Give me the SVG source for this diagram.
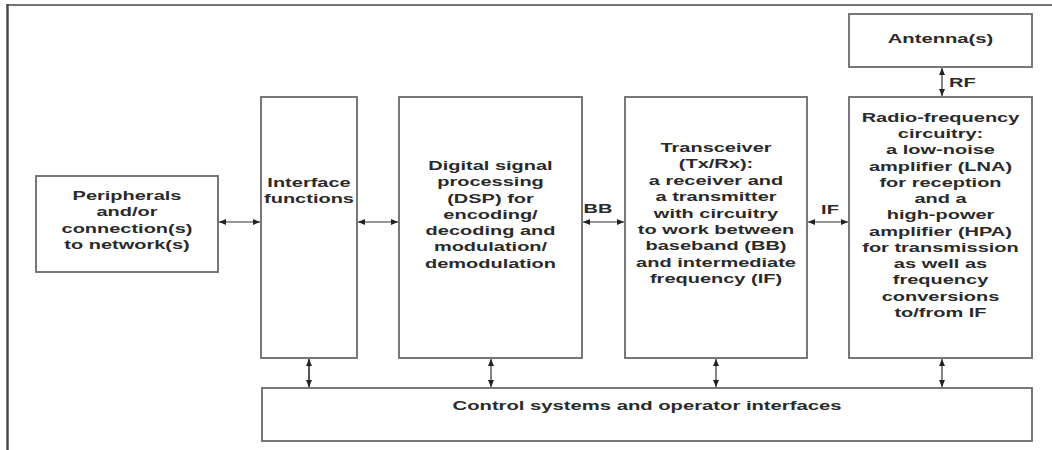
<svg xmlns="http://www.w3.org/2000/svg" width="1052" height="450" viewBox="0 0 1052 450">
<style>
.box{fill:#fff;stroke:#6a6a6a;stroke-width:1.8}
.t{font-family:"Liberation Sans",Arial,sans-serif;font-size:13.5px;font-weight:bold;fill:#2a2a2a;text-anchor:middle}
.lbl{font-family:"Liberation Sans",Arial,sans-serif;font-size:13.5px;font-weight:bold;fill:#2a2a2a}
.c{stroke:#333;stroke-width:1.2;fill:none;marker-start:url(#ah);marker-end:url(#ah)}
.cv{stroke:#555;stroke-width:2;fill:none;marker-start:url(#ah);marker-end:url(#ah)}
</style>
<defs>
<marker id="ah" markerUnits="userSpaceOnUse" markerWidth="8" markerHeight="7" refX="7" refY="3" orient="auto-start-reverse">
<path d="M0,0 L7,3 L0,6 z" fill="#222"/>
</marker>
</defs>
<rect x="0" y="0" width="1052" height="450" fill="#fff"/>
<g id="frame">
<line x1="7.5" y1="5" x2="1052" y2="5" stroke="#444" stroke-width="1.6"/>
<line x1="7.5" y1="4" x2="7.5" y2="450" stroke="#444" stroke-width="2.4"/>
</g>
<g id="connectors">
<line class="c" x1="219" y1="222" x2="260" y2="222"/>
<line class="c" x1="358" y1="222" x2="398" y2="222"/>
<line class="c" x1="583" y1="222" x2="624" y2="222"/>
<line class="c" x1="808" y1="222" x2="848" y2="222"/>
<line class="c" x1="942" y1="68" x2="942" y2="96"/>
<line class="cv" x1="309" y1="359" x2="309" y2="387"/>
<line class="c" x1="491" y1="359" x2="491" y2="387"/>
<line class="c" x1="716" y1="359" x2="716" y2="387"/>
<line class="c" x1="942" y1="359" x2="942" y2="387"/>
<g transform="translate(598,213) scale(1.48,1)"><text class="t" x="0" y="0">BB</text></g>
<g transform="translate(830,214) scale(1.48,1)"><text class="t" x="0" y="0">IF</text></g>
<g transform="translate(949,87) scale(1.48,1)"><text class="lbl" x="0" y="0">RF</text></g>
</g>
<g id="antenna">
<rect class="box" x="849" y="14" width="183" height="53"/>
<g transform="translate(940.5,43) scale(1.5,1)"><text class="t" x="0" y="0" fill="#1a1a1a">Antenna(s)</text></g>
</g>
<g id="peripherals">
<rect class="box" x="36" y="176" width="182" height="96"/>
<g transform="translate(127,0) scale(1.48,1)">
<text class="t" x="0" y="200">Peripherals</text>
<text class="t" x="0" y="216.3">and/or</text>
<text class="t" x="0" y="232.6">connection(s)</text>
<text class="t" x="0" y="249">to network(s)</text>
</g>
</g>
<g id="interface">
<rect class="box" x="261" y="97" width="96" height="261"/>
<g transform="translate(309,0) scale(1.48,1)">
<text class="t" x="0" y="187">Interface</text>
<text class="t" x="0" y="203.3">functions</text>
</g>
</g>
<g id="dsp">
<rect class="box" x="399" y="97" width="183" height="261"/>
<g transform="translate(490.5,0) scale(1.48,1)">
<text class="t" x="0" y="170">Digital signal</text>
<text class="t" x="0" y="186.3">processing</text>
<text class="t" x="0" y="202.6">(DSP) for</text>
<text class="t" x="0" y="218.9">encoding/</text>
<text class="t" x="0" y="235.2">decoding and</text>
<text class="t" x="0" y="251.5">modulation/</text>
<text class="t" x="0" y="267.8">demodulation</text>
</g>
</g>
<g id="transceiver">
<rect class="box" x="625" y="97" width="182" height="261"/>
<g transform="translate(716,0) scale(1.48,1)">
<text class="t" x="0" y="152">Transceiver</text>
<text class="t" x="0" y="168.4">(Tx/Rx):</text>
<text class="t" x="0" y="184.8">a receiver and</text>
<text class="t" x="0" y="201.2">a transmitter</text>
<text class="t" x="0" y="217.6">with circuitry</text>
<text class="t" x="0" y="234">to work between</text>
<text class="t" x="0" y="250.4">baseband (BB)</text>
<text class="t" x="0" y="266.8">and intermediate</text>
<text class="t" x="0" y="283.2">frequency (IF)</text>
</g>
</g>
<g id="rf">
<rect class="box" x="849" y="97" width="183" height="261"/>
<g transform="translate(940.5,0) scale(1.48,1)">
<text class="t" x="0" y="122">Radio-frequency</text>
<text class="t" x="0" y="138.25">circuitry:</text>
<text class="t" x="0" y="154.5">a low-noise</text>
<text class="t" x="0" y="170.75">amplifier (LNA)</text>
<text class="t" x="0" y="187">for reception</text>
<text class="t" x="0" y="203.25">and a</text>
<text class="t" x="0" y="219.5">high-power</text>
<text class="t" x="0" y="235.75">amplifier (HPA)</text>
<text class="t" x="0" y="252">for transmission</text>
<text class="t" x="0" y="268.25">as well as</text>
<text class="t" x="0" y="284.5">frequency</text>
<text class="t" x="0" y="300.75">conversions</text>
<text class="t" x="0" y="317">to/from IF</text>
</g>
</g>
<g id="control">
<rect class="box" x="262" y="388" width="770" height="53"/>
<g transform="translate(647,410) scale(1.5,1)"><text class="t" x="0" y="0" fill="#1a1a1a">Control systems and operator interfaces</text></g>
</g>
</svg>
